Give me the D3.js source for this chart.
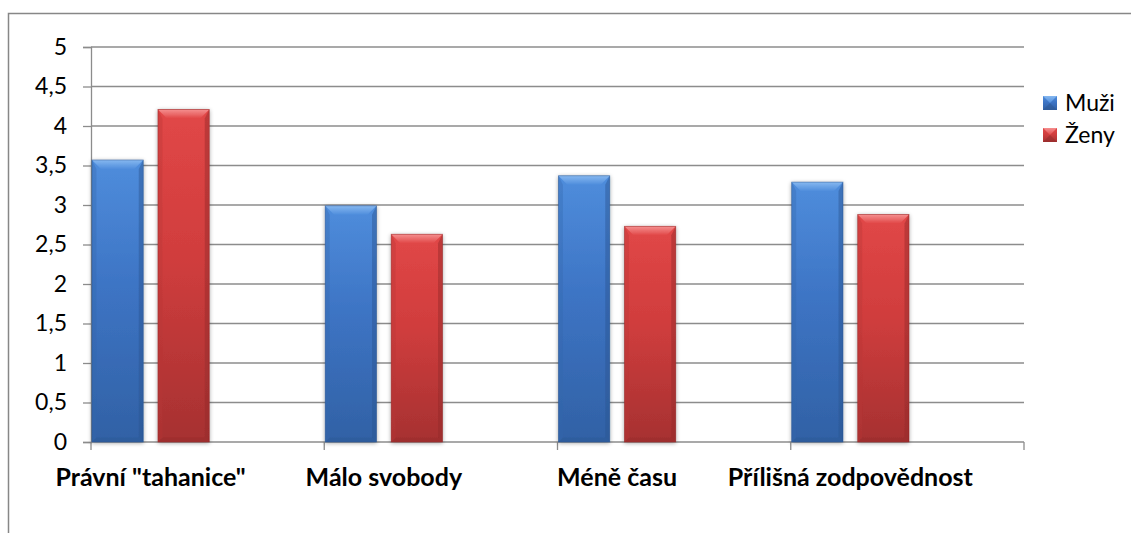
<!DOCTYPE html>
<html><head><meta charset="utf-8">
<script src="https://cdn.jsdelivr.net/npm/d3@7"></script>
<style>
html,body{margin:0;padding:0;background:#fff;}
svg{display:block;}
text{font-family:"Lato","Open Sans",sans-serif;fill:#000;}
</style></head>
<body><svg id="c" width="1131" height="533"></svg>
<script>
const categories = ["Právní \"tahanice\"", "Málo svobody", "Méně času", "Přílišná zodpovědnost"];
const seriesNames = ["Muži", "Ženy"];
const muzi = [3.57, 2.99, 3.37, 3.29];
const zeny = [4.21, 2.63, 2.73, 2.88];
const yTicks = [0, 0.5, 1, 1.5, 2, 2.5, 3, 3.5, 4, 4.5, 5];
const tickLabels = ["0", "0,5", "1", "1,5", "2", "2,5", "3", "3,5", "4", "4,5", "5"];

(function(){
const svg = d3.select("#c");
const W = 1131, H = 533;
const pLeft = 91, pRight = 1024, pTop = 47, pBottom = 442;

const x = d3.scaleBand().domain(categories).range([pLeft, pRight]).paddingInner(0).paddingOuter(0);
const y = d3.scaleLinear().domain([0, 5]).range([pBottom, pTop]);
const bw = x.bandwidth();
const sub = d3.scaleOrdinal().domain(seriesNames).range([0.004, 0.287]);
const barW = bw * 0.22;

const defs = svg.append("defs");
const pal = {
  "Muži": {light:"#86b8f0", top:"#4f8ddc", mid:"#3d74c4", bot:"#3161a5", side:"#3467ad", dark:"#2b5590"},
  "Ženy": {light:"#f59090", top:"#e14747", mid:"#d03d3d", bot:"#a63131", side:"#b63737", dark:"#922a2a"}
};
seriesNames.forEach((s,i)=>{
  const p = pal[s];
  const g = defs.append("linearGradient").attr("id","body"+i).attr("x1",0).attr("y1",0).attr("x2",0).attr("y2",1);
  g.append("stop").attr("offset","0%").attr("stop-color",p.top);
  g.append("stop").attr("offset","45%").attr("stop-color",p.mid);
  g.append("stop").attr("offset","100%").attr("stop-color",p.bot);
  const t = defs.append("linearGradient").attr("id","topb"+i).attr("x1",0).attr("y1",0).attr("x2",0).attr("y2",1);
  t.append("stop").attr("offset","0%").attr("stop-color",p.light);
  t.append("stop").attr("offset","100%").attr("stop-color",p.top);
});
const f = defs.append("filter").attr("id","sh").attr("x","-20%").attr("y","-20%").attr("width","140%").attr("height","140%");
f.append("feGaussianBlur").attr("in","SourceAlpha").attr("stdDeviation",2).attr("result","b");
f.append("feOffset").attr("in","b").attr("dx",0).attr("dy",1).attr("result","o");
f.append("feComponentTransfer").attr("in","o").attr("result","o2").append("feFuncA").attr("type","linear").attr("slope",0.35);
const fm = f.append("feMerge"); fm.append("feMergeNode").attr("in","o2"); fm.append("feMergeNode").attr("in","SourceGraphic");

svg.append("rect").attr("x",8.5).attr("y",13.5).attr("width",W+20).attr("height",H+20)
  .attr("fill","none").attr("stroke","#878787").attr("stroke-width",1.5);

svg.append("g").selectAll("line").data(yTicks.filter(d=>d>0)).join("line")
  .attr("x1",pLeft).attr("x2",pRight).attr("y1",d=>y(d)).attr("y2",d=>y(d))
  .attr("stroke","#8c8c8c").attr("stroke-width",1.3);

const yAxis = d3.axisLeft(y).tickValues(yTicks).tickSize(8).tickPadding(16)
  .tickFormat((d,i)=>tickLabels[i]);
const ya = svg.append("g").attr("transform",`translate(${pLeft},0)`).call(yAxis);
ya.select(".domain").attr("stroke","#8c8c8c").attr("stroke-width",1.3);
ya.selectAll(".tick line").attr("stroke","#8c8c8c").attr("stroke-width",1.3);
ya.selectAll(".tick text").style("font-size","23px").style("font-family","Lato, sans-serif").attr("fill","#000");

const edges = categories.map(c=>x(c)).concat([pRight]);
svg.append("line").attr("x1",pLeft).attr("x2",pRight).attr("y1",pBottom).attr("y2",pBottom)
  .attr("stroke","#8c8c8c").attr("stroke-width",1.3);
svg.append("g").selectAll("line").data(edges).join("line")
  .attr("x1",d=>d).attr("x2",d=>d).attr("y1",pBottom).attr("y2",pBottom+8)
  .attr("stroke","#8c8c8c").attr("stroke-width",1.3);

const rows = [];
categories.forEach((c,ci)=>{
  rows.push({c, s:"Muži", si:0, v:muzi[ci]});
  rows.push({c, s:"Ženy", si:1, v:zeny[ci]});
});
const bev = 9;
const bars = svg.append("g").selectAll("g").data(rows).join("g").attr("filter","url(#sh)");
bars.each(function(d){
  const g = d3.select(this);
  const x0 = x(d.c) + sub(d.s)*bw, x1 = x0 + barW;
  const y0 = y(d.v), y1 = y(0);
  const p = pal[d.s];
  g.append("rect").attr("x",x0).attr("y",y0).attr("width",barW).attr("height",y1-y0).attr("fill",`url(#body${d.si})`);
  g.append("path").attr("d",`M${x0},${y0}L${x0+bev*0.5},${y0+bev}L${x0+bev*0.5},${y1-bev*0.5}L${x0},${y1}Z`).attr("fill",p.side).attr("opacity",0.35);
  g.append("path").attr("d",`M${x1},${y0}L${x1-bev*0.5},${y0+bev}L${x1-bev*0.5},${y1-bev*0.5}L${x1},${y1}Z`).attr("fill",p.dark).attr("opacity",0.45);
  g.append("path").attr("d",`M${x0},${y1}L${x0+bev*0.5},${y1-bev*0.5}L${x1-bev*0.5},${y1-bev*0.5}L${x1},${y1}Z`).attr("fill",p.dark).attr("opacity",0.35);
  g.append("path").attr("d",`M${x0},${y0}L${x1},${y0}L${x1-bev},${y0+bev}L${x0+bev},${y0+bev}Z`).attr("fill",`url(#topb${d.si})`);
  g.append("rect").attr("x",x0).attr("y",y0).attr("width",barW).attr("height",y1-y0).attr("fill","none").attr("stroke",p.dark).attr("stroke-width",0.8).attr("opacity",0.6);
});

svg.append("g").selectAll("text").data(categories).join("text")
  .attr("x",c=>x(c) + (sub("Muži")*bw + sub("Ženy")*bw + barW)/2)
  .attr("y",477).attr("dy","0.35em").attr("text-anchor","middle")
  .style("font-size","25px").style("font-weight","700").text(c=>c);

const lg = svg.append("g").selectAll("g").data(seriesNames).join("g")
  .attr("transform",(d,i)=>`translate(1043,${103 + i*32})`);
lg.each(function(s,i){
  const g = d3.select(this); const p = pal[s]; const m = 14;
  g.append("rect").attr("x",0).attr("y",-m/2).attr("width",m).attr("height",m).attr("fill",`url(#body${i})`);
  g.append("path").attr("d",`M0,${-m/2}L${m},${-m/2}L${m/2},${0}Z`).attr("fill",`url(#topb${i})`);
  g.append("path").attr("d",`M0,${m/2}L${m},${m/2}L${m/2},0Z`).attr("fill",p.dark).attr("opacity",0.5);
  g.append("text").attr("x",22).attr("y",0).attr("dy","0.35em").style("font-size","23px").text(s);
});
})();
</script></body></html>
